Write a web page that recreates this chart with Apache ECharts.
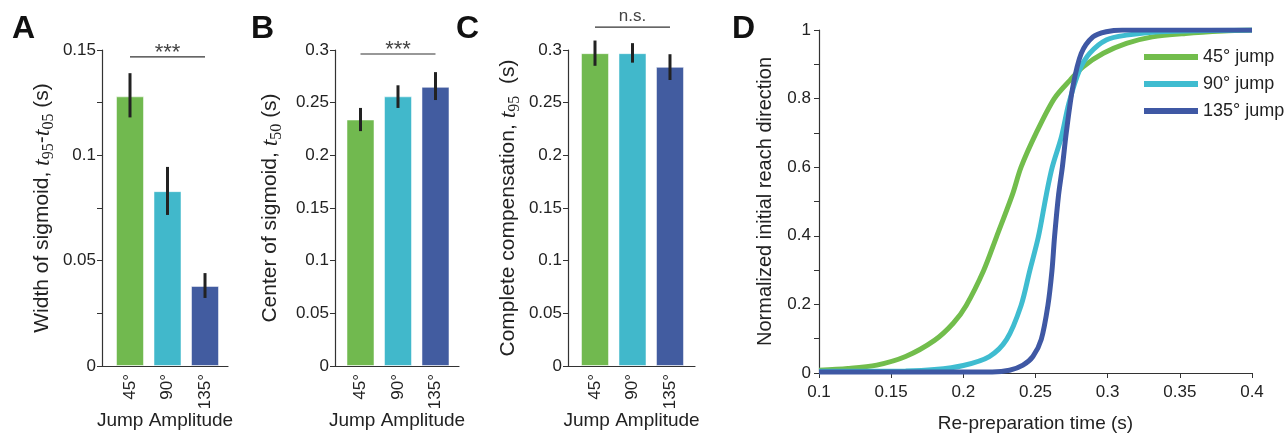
<!DOCTYPE html>
<html>
<head>
<meta charset="utf-8">
<script src="https://cdn.jsdelivr.net/npm/echarts@6/dist/echarts.min.js"></script>
<style>
  html, body { margin: 0; padding: 0; background: #fff; }
  #main { width: 1287px; height: 434px; }
</style>
</head>
<body>
<div id="main"></div>
<script>
// jump amplitudes (bar positions 1..3 on the value x axis)
var jumpPos = [1, 2, 3]
var jumpLabels = ['45°', '90°', '135°']
var jumpColors = ['#71b94f', '#41b8cb', '#425ca0']

// A: width of sigmoid t95 - t05 (s)
var widthMean = [0.128, 0.083, 0.038]
var widthLow = [0.118, 0.0717, 0.0323]
var widthHigh = [0.139, 0.0945, 0.0441]

// B: center of sigmoid t50 (s)
var centerMean = [0.234, 0.256, 0.265]
var centerLow = [0.223, 0.245, 0.2525]
var centerHigh = [0.245, 0.2665, 0.279]

// C: complete compensation t95 (s)
var completeMean = [0.297, 0.297, 0.284]
var completeLow = [0.285, 0.288, 0.2715]
var completeHigh = [0.309, 0.3065, 0.296]

// significance bars: [from, to, height]
var sigA = [1, 3, 0.1467]
var sigB = [1, 3, 0.2962]
var sigC = [1, 3, 0.3218]
var sigText = ['***', '***', 'n.s.']

// D: normalized initial reach direction vs re-preparation time (s)
var curve45 = [
  [0.10, 0.008], [0.12, 0.013], [0.14, 0.023], [0.16, 0.048], [0.18, 0.095],
  [0.193, 0.145], [0.202, 0.197], [0.214, 0.298], [0.223, 0.397], [0.234, 0.52],
  [0.240, 0.60], [0.2505, 0.70], [0.263, 0.80], [0.274, 0.854], [0.283, 0.893],
  [0.297, 0.932], [0.313, 0.961], [0.331, 0.98], [0.354, 0.99], [0.38, 0.997], [0.40, 1.0]
]
var curve90 = [
  [0.10, 0.005], [0.16, 0.006], [0.18, 0.010], [0.20, 0.022], [0.218, 0.048],
  [0.230, 0.098], [0.240, 0.197], [0.246, 0.298], [0.252, 0.397], [0.2575, 0.52],
  [0.2616, 0.60], [0.268, 0.689], [0.2731, 0.786], [0.2805, 0.883], [0.2875, 0.932],
  [0.299, 0.971], [0.313, 0.985], [0.336, 0.995], [0.40, 1.0]
]
var curve135 = [
  [0.10, 0.003], [0.22, 0.003], [0.232, 0.008], [0.2413, 0.023], [0.2482, 0.048],
  [0.254, 0.098], [0.2586, 0.197], [0.2614, 0.298], [0.2632, 0.397], [0.266, 0.52],
  [0.2686, 0.60], [0.2713, 0.70], [0.2759, 0.835], [0.2817, 0.932], [0.2898, 0.98],
  [0.299, 0.995], [0.31, 1.0], [0.40, 1.0]
]
var curveNames = ['45° jump', '90° jump', '135° jump']
var curveColors = ['#72bd4c', '#3fbcd0', '#3f58a4']

var FONT = 'Liberation Sans, Arial, sans-serif'
var AXIS_COLOR = '#333'
var TEXT_COLOR = '#222'

var chart = echarts.init(document.getElementById('main'))

function barData (means) {
  return means.map(function (v, i) {
    return { value: [jumpPos[i], v], itemStyle: { color: jumpColors[i] } }
  })
}

function errData (low, high) {
  return low.map(function (v, i) {
    return [jumpPos[i], v, high[i]]
  })
}

function renderErr (params, api) {
  var p1 = api.coord([api.value(0), api.value(1)])
  var p2 = api.coord([api.value(0), api.value(2)])
  return {
    type: 'line',
    shape: { x1: p1[0], y1: p1[1], x2: p2[0], y2: p2[1] },
    style: { stroke: '#222', lineWidth: 3 }
  }
}

function sigSeries (idx, sig, text, fontSize, dy) {
  return {
    type: 'custom',
    xAxisIndex: idx,
    yAxisIndex: idx,
    clip: false,
    silent: true,
    data: [sig],
    renderItem: function (params, api) {
      var a = api.coord([api.value(0), api.value(2)])
      var b = api.coord([api.value(1), api.value(2)])
      return {
        type: 'group',
        children: [{
          type: 'line',
          shape: { x1: a[0], y1: a[1], x2: b[0], y2: b[1] },
          style: { stroke: '#333', lineWidth: 1.2 }
        }, {
          type: 'text',
          style: {
            text: text,
            x: (a[0] + b[0]) / 2,
            y: a[1] - dy,
            align: 'center',
            verticalAlign: 'top',
            fill: '#444',
            font: fontSize + 'px ' + FONT
          }
        }]
      }
    }
  }
}

function nameRich () {
  return {
    n: { fontSize: 21, fontFamily: FONT, color: TEXT_COLOR },
    i: { fontSize: 24, fontFamily: 'Liberation Serif, serif', fontStyle: 'italic', color: TEXT_COLOR },
    s: { fontSize: 16, fontFamily: 'Liberation Serif, serif', color: TEXT_COLOR, padding: [13, 0, 0, 0] }
  }
}

function barX (idx, min, max) {
  return {
    gridIndex: idx,
    type: 'value',
    min: min,
    max: max,
    splitLine: { show: false },
    axisLine: { lineStyle: { color: AXIS_COLOR, width: 1.2 } },
    axisTick: { show: false },
    axisLabel: {
      customValues: jumpPos,
      formatter: function (v) { return jumpLabels[jumpPos.indexOf(Math.round(v))] || '' },
      rotate: 90,
      margin: 8,
      fontSize: 17,
      fontFamily: FONT,
      color: TEXT_COLOR
    },
    name: 'Jump Amplitude',
    nameLocation: 'middle',
    nameGap: 45,
    nameMoveOverlap: false,
    nameTextStyle: { fontSize: 19, fontFamily: FONT, color: TEXT_COLOR }
  }
}

function barY (idx, max, interval, labelStep, name, gap) {
  return {
    gridIndex: idx,
    type: 'value',
    min: 0,
    max: max,
    interval: interval,
    splitLine: { show: false },
    axisLine: { show: true, lineStyle: { color: AXIS_COLOR, width: 1.2 } },
    axisTick: { show: true, inside: false, length: 5, lineStyle: { color: AXIS_COLOR } },
    axisLabel: {
      showMinLabel: true,
      showMaxLabel: true,
      margin: 6,
      fontSize: 17,
      fontFamily: FONT,
      color: TEXT_COLOR,
      formatter: function (v) {
        var k = Math.round(v / interval)
        return k % labelStep === 0 ? String(+v.toFixed(3)) : ''
      }
    },
    name: name,
    nameLocation: 'middle',
    nameRotate: 90,
    nameGap: gap,
    nameMoveOverlap: false,
    nameTextStyle: { rich: nameRich(), fontSize: 21, fontFamily: FONT, color: TEXT_COLOR }
  }
}

function panelTitle (text, left) {
  return {
    text: text,
    left: left,
    top: 8,
    textStyle: { fontSize: 32, fontWeight: 'bold', fontFamily: FONT, color: '#111' }
  }
}

var option = {
  backgroundColor: '#fff',
  animation: false,
  title: [
    panelTitle('A', 7),
    panelTitle('B', 246),
    panelTitle('C', 451),
    panelTitle('D', 727)
  ],
  grid: [
    { left: 102, top: 50, width: 126, height: 316, outerBoundsMode: 'none', containLabel: false },
    { left: 335, top: 50, width: 124, height: 316, outerBoundsMode: 'none', containLabel: false },
    { left: 568, top: 50, width: 127, height: 316, outerBoundsMode: 'none', containLabel: false },
    { left: 819, top: 30, width: 433, height: 343, outerBoundsMode: 'none', containLabel: false }
  ],
  legend: {
    orient: 'vertical',
    left: 1139,
    top: 43,
    icon: 'rect',
    itemWidth: 54,
    itemHeight: 6,
    itemGap: 9,
    data: curveNames,
    textStyle: { fontSize: 18, fontFamily: FONT, color: TEXT_COLOR, padding: [2, 0, 0, 0] }
  },
  xAxis: [
    barX(0, 0.2533, 3.613),
    barX(1, 0.32, 3.627),
    barX(2, 0.28, 3.667),
    {
      gridIndex: 3,
      type: 'value',
      min: 0.1,
      max: 0.4,
      interval: 0.05,
      splitLine: { show: false },
      axisLine: { lineStyle: { color: AXIS_COLOR, width: 1.2 } },
      axisTick: { show: true, length: 5, lineStyle: { color: AXIS_COLOR } },
      axisLabel: {
        showMinLabel: true,
        showMaxLabel: true,
        margin: 11,
        fontSize: 17,
        fontFamily: FONT,
        color: TEXT_COLOR,
        formatter: function (v) { return String(+v.toFixed(2)) }
      },
      name: 'Re-preparation time (s)',
      nameLocation: 'middle',
      nameGap: 41,
      nameMoveOverlap: false,
      nameTextStyle: { fontSize: 19, fontFamily: FONT, color: TEXT_COLOR }
    }
  ],
  yAxis: [
    barY(0, 0.15, 0.025, 2, 'Width of sigmoid, {i|t}{s|95}{n|-}{i|t}{s|05}{n| (s)}', 45),
    barY(1, 0.3, 0.05, 1, 'Center of sigmoid, {i|t}{s|50}{n| (s)}', 50),
    barY(2, 0.3, 0.05, 1, 'Complete compensation, {i|t}{s|95}{n|  (s)}', 45),
    {
      gridIndex: 3,
      type: 'value',
      min: 0,
      max: 1,
      interval: 0.1,
      splitLine: { show: false },
      axisLine: { show: true, lineStyle: { color: AXIS_COLOR, width: 1.2 } },
      axisTick: { show: true, length: 5, lineStyle: { color: AXIS_COLOR } },
      axisLabel: {
        showMinLabel: true,
        showMaxLabel: true,
        margin: 8,
        fontSize: 17,
        fontFamily: FONT,
        color: TEXT_COLOR,
        formatter: function (v) {
          return Math.round(v * 10) % 2 === 0 ? String(+v.toFixed(1)) : ''
        }
      },
      name: 'Normalized initial reach direction',
      nameLocation: 'middle',
      nameRotate: 90,
      nameGap: 44,
      nameMoveOverlap: false,
      nameTextStyle: { fontSize: 20, fontFamily: FONT, color: TEXT_COLOR }
    }
  ],
  series: [
    { type: 'bar', xAxisIndex: 0, yAxisIndex: 0, barWidth: 28, data: barData(widthMean), itemStyle: { borderColor: 'rgba(255,255,255,0.5)', borderWidth: 1 } },
    { type: 'bar', xAxisIndex: 1, yAxisIndex: 1, barWidth: 28, data: barData(centerMean), itemStyle: { borderColor: 'rgba(255,255,255,0.5)', borderWidth: 1 } },
    { type: 'bar', xAxisIndex: 2, yAxisIndex: 2, barWidth: 28, data: barData(completeMean), itemStyle: { borderColor: 'rgba(255,255,255,0.5)', borderWidth: 1 } },
    { type: 'custom', xAxisIndex: 0, yAxisIndex: 0, data: errData(widthLow, widthHigh), renderItem: renderErr, z: 5 },
    { type: 'custom', xAxisIndex: 1, yAxisIndex: 1, data: errData(centerLow, centerHigh), renderItem: renderErr, z: 5 },
    { type: 'custom', xAxisIndex: 2, yAxisIndex: 2, data: errData(completeLow, completeHigh), renderItem: renderErr, z: 5, clip: false },
    sigSeries(0, sigA, sigText[0], 22, 15),
    sigSeries(1, sigB, sigText[1], 22, 15),
    sigSeries(2, sigC, sigText[2], 17, 19)
  ].concat([curve45, curve90, curve135].map(function (d, i) {
    return {
      name: curveNames[i],
      type: 'line',
      xAxisIndex: 3,
      yAxisIndex: 3,
      data: d,
      symbol: 'none',
      smooth: 0.3,
      z: 3 + i,
      color: curveColors[i],
      lineStyle: { color: curveColors[i], width: 5 }
    }
  }))
}

chart.setOption(option)
</script>
</body>
</html>
